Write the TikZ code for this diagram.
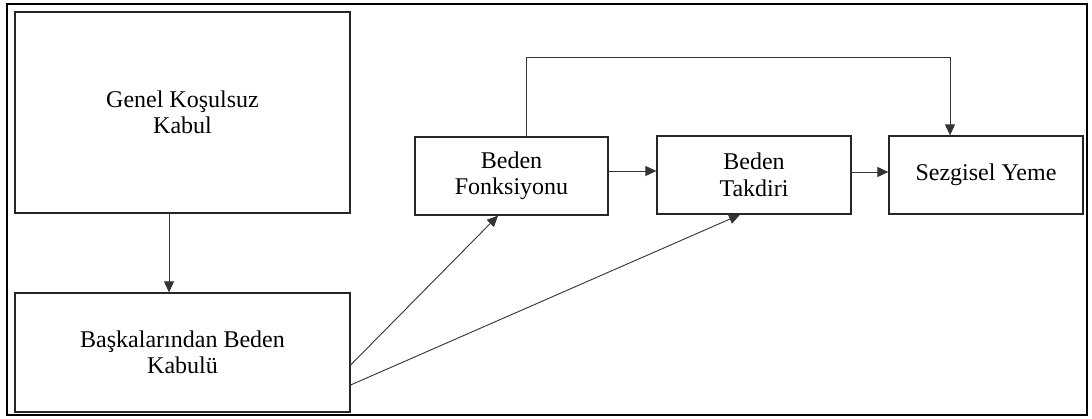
\documentclass[tikz,border=0pt]{standalone}
\usepackage{fontspec}
\setmainfont{Liberation Serif}
\usetikzlibrary{arrows.meta}
\begin{document}
\begin{tikzpicture}[x=1pt,y=-1pt,
  box/.style={draw=black!85, line width=1.3pt, align=center, inner sep=0pt,
    font=\fontsize{24}{26.5}\selectfont},
  conn/.style={draw=black!80, line width=0.9pt},
  arr/.style={conn, -{Triangle[length=11pt,width=10pt]}}]
\useasboundingbox (0,0) rectangle (1092,419);
\draw[line width=2pt] (7,4) rectangle (1087,415);
\node[box, minimum width=335pt, minimum height=201pt] (A) at (182.5,112.5) {Genel Koşulsuz\\Kabul};
\node[box, minimum width=335pt, minimum height=119pt] (B) at (182.5,352.5) {Başkalarından Beden\\Kabulü};
\node[box, minimum width=193pt, minimum height=78pt] (C) at (511.5,176) {Beden\\Fonksiyonu};
\node[box, minimum width=194pt, minimum height=78pt] (D) at (754,175) {Beden\\Takdiri};
\node[box, minimum width=194pt, minimum height=78pt] (E) at (986,175) {Sezgisel Yeme};
\coordinate (t1) at (526,57);
\coordinate (t2) at (950,57);
\draw[arr] ([xshift=-13.5pt]A.south) -- ([xshift=-13.5pt]B.north);
\draw[arr] ([yshift=-12.5pt]B.east) -- ([xshift=-13.5pt]C.south);
\draw[arr] ([yshift=-32.5pt]B.east) -- ([xshift=-14pt]D.south);
\draw[arr] ([yshift=5pt]C.east) -- ([yshift=4pt]D.west);
\draw[arr] ([yshift=3pt]D.east) -- ([yshift=3pt]E.west);
\draw[arr] ([xshift=14.5pt]C.north) -- (t1) -- (t2) -- ([xshift=-36pt]E.north);
\end{tikzpicture}
\end{document}
